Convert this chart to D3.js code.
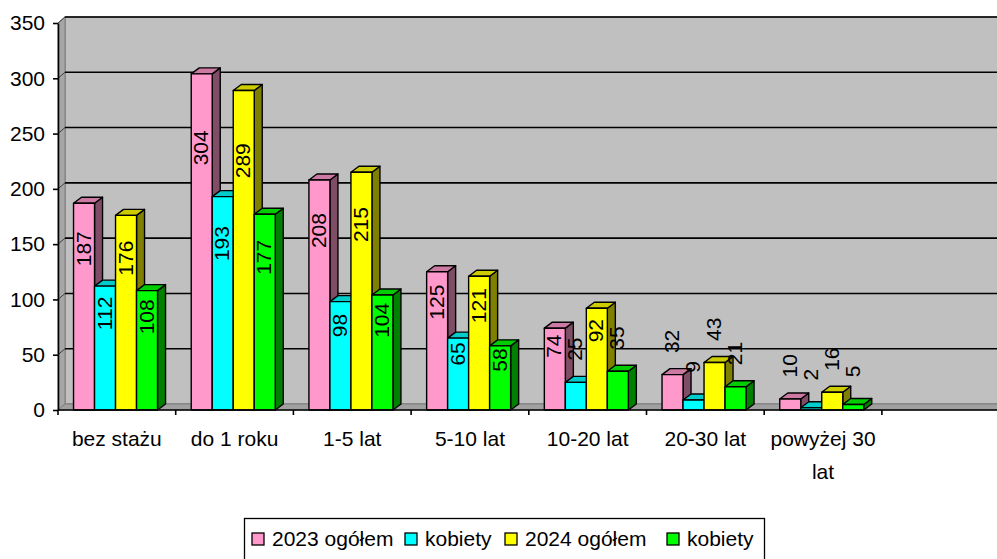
<!DOCTYPE html>
<html>
<head>
<meta charset="utf-8">
<script src="https://cdn.jsdelivr.net/npm/d3@7/dist/d3.min.js"></script>
<style>
  html, body { margin: 0; padding: 0; background: #fff; }
  svg { display: block; }
  text { font-family: "Liberation Sans", Arial, sans-serif; fill: #000; }
</style>
</head>
<body>
<svg id="chart" width="997" height="559"></svg>
<script>
// ---- data ----
const categories = ["bez stażu", "do 1 roku", "1-5 lat", "5-10 lat", "10-20 lat", "20-30 lat", "powyżej 30 lat", ""];
const seriesNames = ["2023 ogółem", "kobiety", "2024 ogółem", "kobiety"];
const total2023 = [187, 304, 208, 125, 74, 32, 10];
const women2023 = [112, 193, 98, 65, 25, 9, 2];
const total2024 = [176, 289, 215, 121, 92, 43, 16];
const women2024 = [108, 177, 104, 58, 35, 21, 5];
const yTicks = [0, 50, 100, 150, 200, 250, 300, 350];

const seriesValues = [total2023, women2023, total2024, women2024];
const palette = [
  { front: "#FF99CC", top: "#CC7AA3", side: "#804D66" },
  { front: "#00FFFF", top: "#00CCCC", side: "#008080" },
  { front: "#FFFF00", top: "#CCCC00", side: "#808000" },
  { front: "#00FF00", top: "#00CC00", side: "#008000" }
];

// ---- layout ----
const svg = d3.select("#chart");
const axisX = 58, floorY = 410, rightX = 997;
const DX = 7, DY = -6;       // wall depth
const BDX = 8, BDY = -6;     // bar depth

const y = d3.scaleLinear().domain([0, 350]).range([floorY, 23]);
const x0 = d3.scaleBand().domain(d3.range(categories.length)).range([axisX, axisX + 117.7 * categories.length]).padding(0);
const slot = x0.bandwidth();
const x1 = d3.scaleBand().domain(d3.range(seriesNames.length)).range([slot * 0.132, slot * 0.132 + 84]).padding(0);
const bw = x1.bandwidth();

const FONT = 21;

// walls
const g = svg.append("g");
// back wall
g.append("rect")
  .attr("x", axisX + DX).attr("y", y(350) + DY)
  .attr("width", rightX - axisX - DX + 5).attr("height", floorY - y(350))
  .attr("fill", "#C0C0C0").attr("stroke", "#808080").attr("stroke-width", 1.5);
// left side wall
g.append("polygon")
  .attr("points", [[axisX, floorY], [axisX, y(350)], [axisX + DX, y(350) + DY], [axisX + DX, floorY + DY]].map(p => p.join(",")).join(" "))
  .attr("fill", "#A6A6A6").attr("stroke", "#808080").attr("stroke-width", 1);
// floor
g.append("polygon")
  .attr("points", [[axisX, floorY], [axisX + DX, floorY + DY], [rightX + 10, floorY + DY], [rightX + 10, floorY]].map(p => p.join(",")).join(" "))
  .attr("fill", "#A0A0A0").attr("stroke", "#808080").attr("stroke-width", 1);

// gridlines on wall
yTicks.filter(v => v > 0).forEach(v => {
  g.append("line")
    .attr("x1", axisX + DX).attr("x2", rightX + 5)
    .attr("y1", y(v) + DY).attr("y2", y(v) + DY)
    .attr("stroke", "#000").attr("stroke-width", 1.6);
  g.append("line")
    .attr("x1", axisX).attr("x2", axisX + DX)
    .attr("y1", y(v)).attr("y2", y(v) + DY)
    .attr("stroke", "#404040").attr("stroke-width", 1);
});

// y axis
const yAxis = d3.axisLeft(y).tickValues(yTicks).tickSize(5).tickSizeOuter(0).tickPadding(8);
const ya = svg.append("g").attr("transform", `translate(${axisX},0)`).call(yAxis);
ya.select(".domain").attr("stroke", "#000").attr("stroke-width", 1.6);
ya.selectAll(".tick line").attr("stroke", "#000").attr("stroke-width", 1.6);
ya.selectAll(".tick text").attr("font-size", FONT).attr("font-family", '"Liberation Sans", Arial, sans-serif').attr("fill", "#000");

// bars
const bars = svg.append("g");
categories.forEach((c, ci) => {
  seriesValues.forEach((arr, si) => {
    const v = arr[ci];
    if (v === undefined) return;
    const col = palette[si];
    const x = x0(ci) + x1(si);
    const yt = y(v);
    const bg = bars.append("g").attr("stroke", "#000").attr("stroke-width", 1.4).attr("stroke-linejoin", "round");
    bg.append("polygon")
      .attr("points", [[x + bw, yt], [x + bw + BDX, yt + BDY], [x + bw + BDX, floorY + BDY], [x + bw, floorY]].map(p => p.join(",")).join(" "))
      .attr("fill", col.side);
    bg.append("polygon")
      .attr("points", [[x, yt], [x + BDX, yt + BDY], [x + bw + BDX, yt + BDY], [x + bw, yt]].map(p => p.join(",")).join(" "))
      .attr("fill", col.top);
    bg.append("rect")
      .attr("x", x).attr("y", yt).attr("width", bw).attr("height", floorY - yt)
      .attr("fill", col.front);
  });
});

// x axis line and ticks
const xa = svg.append("g");
xa.append("line").attr("x1", axisX).attr("x2", rightX + 5).attr("y1", floorY).attr("y2", floorY)
  .attr("stroke", "#000").attr("stroke-width", 1.6);
d3.range(categories.length + 1).forEach(i => {
  const xx = i < categories.length ? x0(i) : x0(categories.length - 1) + slot;
  xa.append("line").attr("x1", xx).attr("x2", xx).attr("y1", floorY).attr("y2", floorY + 5)
    .attr("stroke", "#000").attr("stroke-width", 1.6);
});
// category labels
categories.forEach((c, ci) => {
  if (!c) return;
  const cx = x0(ci) + slot / 2;
  const t = xa.append("text").attr("x", cx).attr("y", 446).attr("text-anchor", "middle").attr("font-size", FONT);
  const parts = c === "powyżej 30 lat" ? ["powyżej 30", "lat"] : [c];
  parts.forEach((p, pi) => {
    t.append("tspan").attr("x", cx).attr("dy", pi === 0 ? 0 : 33).text(p);
  });
});

// data labels (rotated)
const labels = svg.append("g");
categories.forEach((c, ci) => {
  seriesValues.forEach((arr, si) => {
    const v = arr[ci];
    if (v === undefined) return;
    const anchor = v >= 50 ? v * 0.78 : v + 30;
    const cx = x0(ci) + x1(si) + bw / 2 - 1;
    const cy = y(anchor);
    labels.append("text")
      .attr("transform", `translate(${cx},${cy}) rotate(-90)`)
      .attr("text-anchor", "middle").attr("dy", "0.36em")
      .attr("font-size", FONT).text(v);
  });
});

// legend
const lg = svg.append("g");
lg.append("rect").attr("x", 244.5).attr("y", 518.5).attr("width", 520).attr("height", 50)
  .attr("fill", "#fff").attr("stroke", "#000").attr("stroke-width", 1.3);
const legendX = [252, 405, 505, 667];
seriesNames.forEach((n, i) => {
  lg.append("rect").attr("x", legendX[i]).attr("y", 533).attr("width", 12).attr("height", 12)
    .attr("fill", palette[i].front).attr("stroke", "#000").attr("stroke-width", 1.3);
  lg.append("text").attr("x", legendX[i] + 20).attr("y", 546).attr("font-size", FONT).text(n);
});
</script>
</body>
</html>
